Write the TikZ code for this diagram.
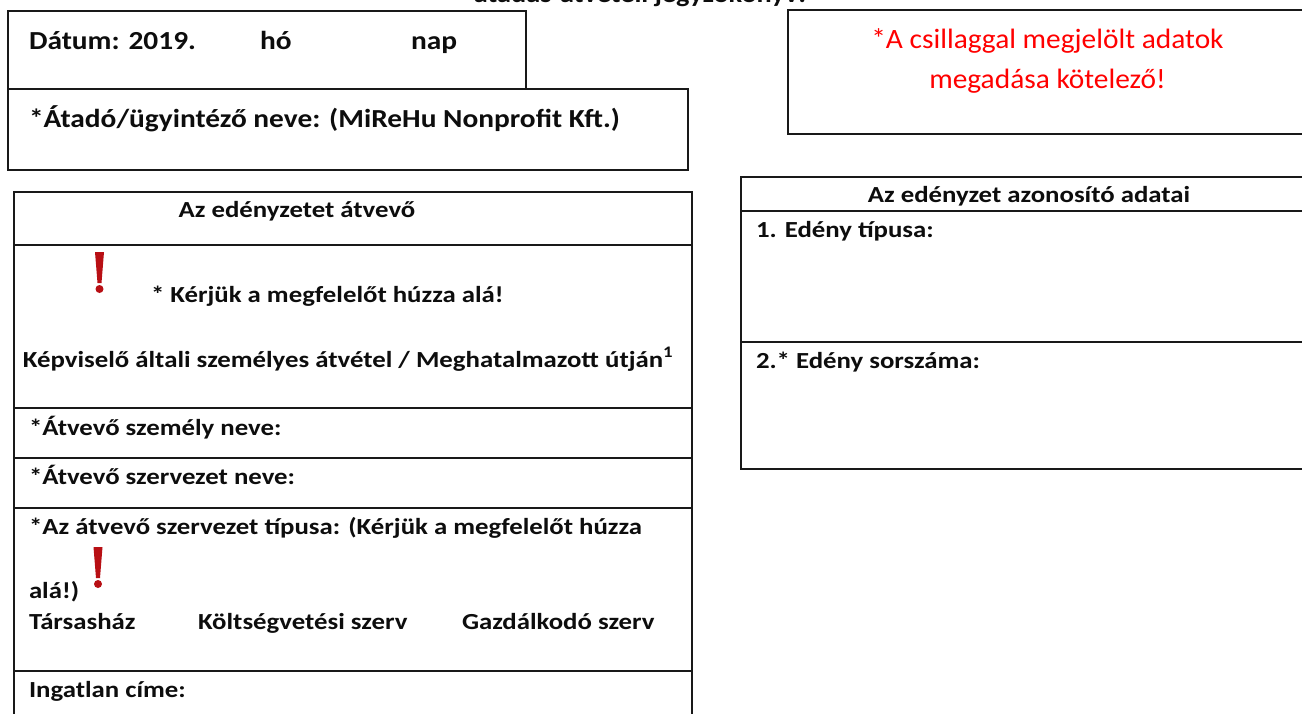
\documentclass[tikz,border=0pt]{standalone}
\usepackage{fontspec}
\setmainfont{Carlito}
\newfontfamily\tabfont[FakeStretch=1.165]{Carlito}
\newfontfamily\topfont[FakeStretch=1.13]{Carlito}
\newfontfamily\redfont[FakeStretch=1.05]{Carlito}
\definecolor{bangred}{HTML}{B80F14}
\tikzset{x=1pt,y=-1pt,
 box/.style={draw=black!90!white,line width=2pt},
 lab/.style={anchor=base west,inner sep=0pt,outer sep=0pt,font=\tabfont\fontsize{23}{27}\selectfont\bfseries,text=black!95},
 toplab/.style={lab,font=\topfont\fontsize{26}{30}\selectfont\bfseries},
 ctr/.style={lab,anchor=base},
 redlab/.style={anchor=base,inner sep=0pt,outer sep=0pt,font=\redfont\fontsize{28}{32}\selectfont,text=red}}
\newcommand{\bangmark}[2]{%
 \fill[white] (#1-20,#2-6.5) rectangle (#1+19,#2+50);
 \fill[bangred] (#1-4.5,#2) -- (#1+4.5,#2) -- (#1+2,#2+31) -- (#1-2,#2+31) -- cycle;
 \fill[bangred] (#1,#2+37) circle (4);}
\begin{document}
\begin{tikzpicture}
\useasboundingbox (0,0) rectangle (1302,713);
\fill[white] (0,0) rectangle (1302,713);
% title
\node[ctr,font=\topfont\fontsize{25}{30}\selectfont\bfseries] (title) at (640,2) {átadás-átvételi jegyzőkönyv:};
% date + sender
\draw[box] (8,11) rectangle (526,89);
\draw[box] (8,89) rectangle (688,170);
\node[toplab] (date) at (29,49) {Dátum: 2019.};
\node[toplab] (ho) at (260,49) {hó};
\node[toplab] (nap) at (411,49) {nap};
\node[toplab] (sender) at (29,127) {*Átadó/ügyintéző neve: (MiReHu Nonprofit Kft.)};
% red box
\draw[box] (1400,10) -- (788,10) -- (788,133.7) -- (1400,133.7);
\node[redlab] (n1) at (1047.5,48) {*A csillaggal megjelölt adatok};
\node[redlab] (n2) at (1047.5,88) {megadása kötelező!};
% left table
\draw[box] (14,192) rectangle (692,740);
\draw[box] (14,245) -- (692,245);
\draw[box] (14,408) -- (692,408);
\draw[box] (14,458) -- (692,458);
\draw[box] (14,508) -- (692,508);
\draw[box] (14,671) -- (692,671);
\node[ctr] (recv) at (297,217) {Az edényzetet átvevő};
\bangmark{99.5}{252}
\node[lab] (k1) at (151,302) {* Kérjük a megfelelőt húzza alá!};
\node[lab] (k2) at (23,367) {Képviselő általi személyes átvétel / Meghatalmazott útján\textsuperscript{1}};
\node[lab] (p) at (29,435) {*Átvevő személy neve:};
\node[lab] (o) at (29,484) {*Átvevő szervezet neve:};
\bangmark{98}{547}
\node[lab] (t1) at (29,534) {*Az átvevő szervezet típusa: (Kérjük a megfelelőt húzza};
\node[lab] (t2) at (29,598) {alá!)};
\node[lab] (a) at (29,629) {Társasház};
\node[lab] (b) at (198,629) {Költségvetési szerv};
\node[lab] (c) at (462,629) {Gazdálkodó szerv};
\node[lab] (i) at (29,697) {Ingatlan címe:};
% right table
\draw[box] (1400,177) -- (741,177) -- (741,468.7) -- (1400,468.7);
\draw[box] (741,210.7) -- (1400,210.7);
\draw[box] (741,341.7) -- (1400,341.7);
\node[ctr] (h) at (1029,202) {Az edényzet azonosító adatai};
\node[lab] (e1) at (756,237) {1. Edény típusa:};
\node[lab] (e2) at (756,368) {2.* Edény sorszáma:};
\end{tikzpicture}
\end{document}
